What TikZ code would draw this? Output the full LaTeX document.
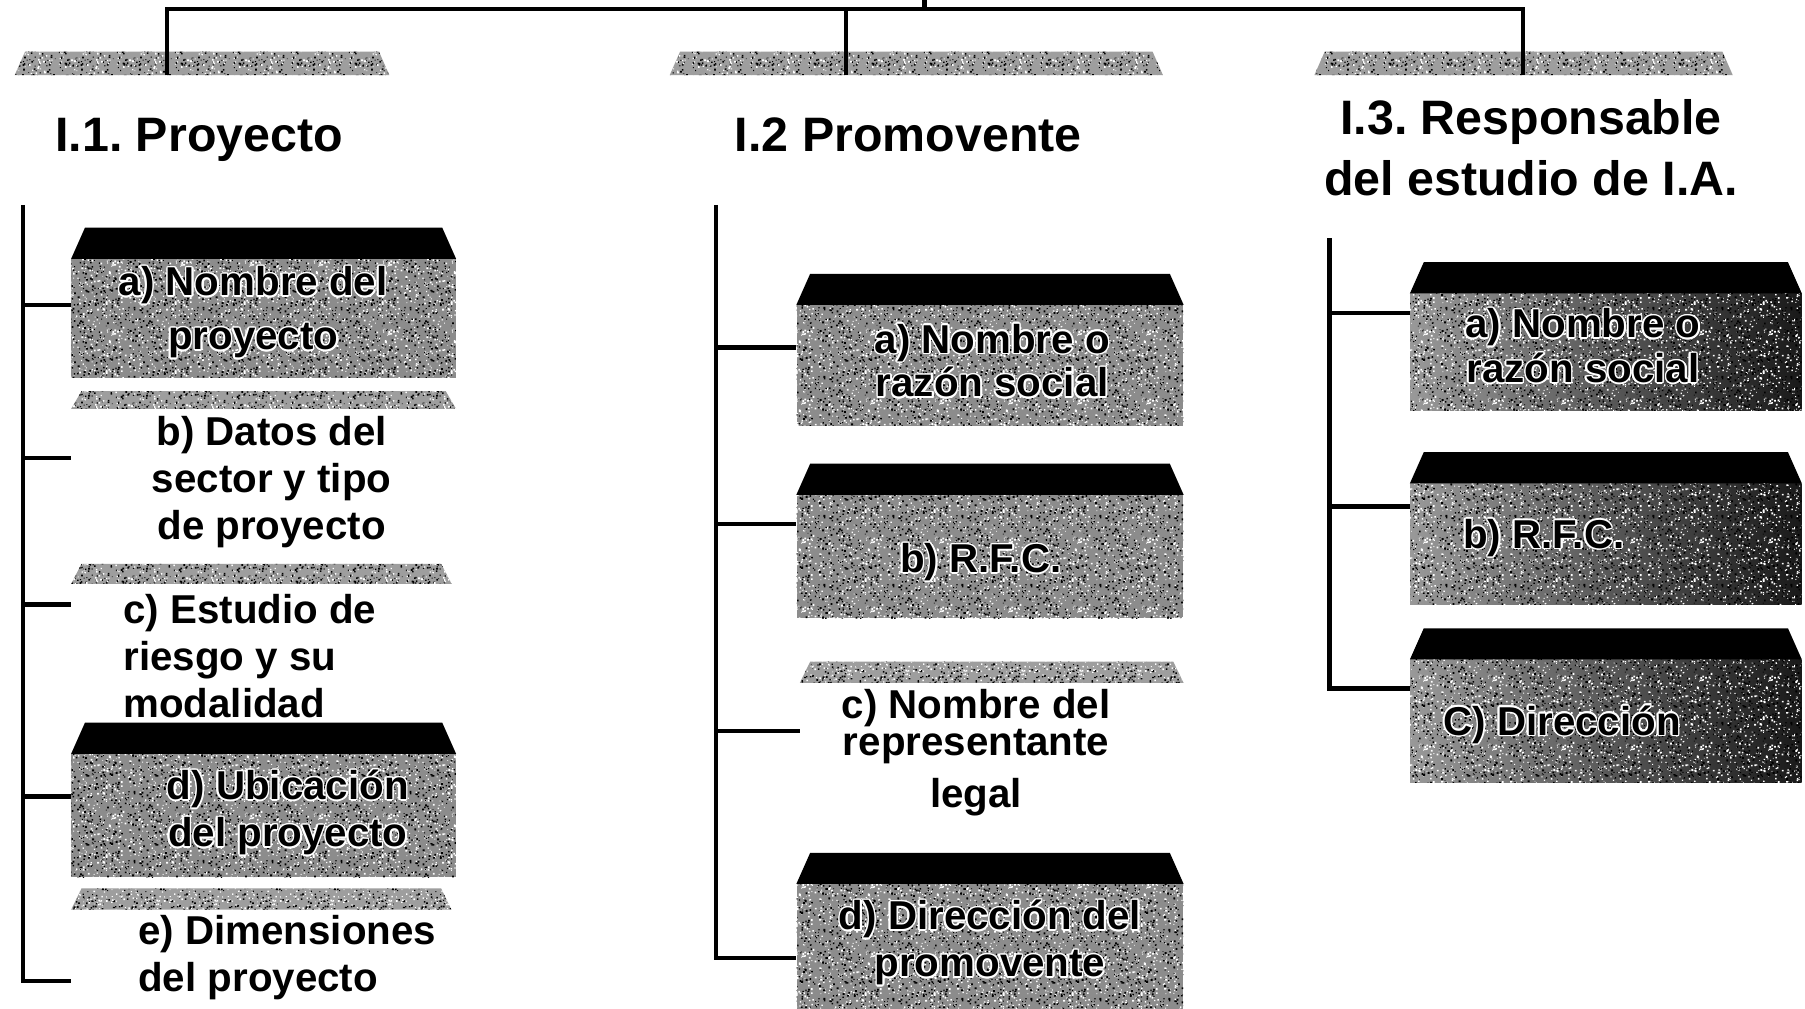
\documentclass[tikz,border=0pt]{standalone}
\usepackage{fontspec}
\setmainfont{Liberation Sans}
\usepackage[copies]{contour}
\contourlength{1.3pt}
\usetikzlibrary{calc,patterns}
\definecolor{barcol}{gray}{0.62}
\definecolor{facecol}{gray}{0.55}
\pgfdeclarepatterninherentlycolored{speckF}{\pgfpoint{0pt}{0pt}}{\pgfpoint{60pt}{60pt}}{\pgfpoint{60pt}{60pt}}{%
  \pgfmathsetseed{11}%
  \pgfsetfillcolor{white}%
  \foreach \k in {1,...,230}{%
    \pgfmathsetmacro\px{59*rnd}\pgfmathsetmacro\py{59*rnd}\pgfmathsetmacro\ps{0.6+1.1*rnd}%
    \pgfpathrectangle{\pgfpoint{\px pt}{\py pt}}{\pgfpoint{\ps pt}{\ps pt}}\pgfusepath{fill}%
  }%
  \pgfsetfillcolor{black}%
  \foreach \k in {1,...,200}{%
    \pgfmathsetmacro\px{59*rnd}\pgfmathsetmacro\py{59*rnd}\pgfmathsetmacro\ps{0.6+1.1*rnd}%
    \pgfpathrectangle{\pgfpoint{\px pt}{\py pt}}{\pgfpoint{\ps pt}{\ps pt}}\pgfusepath{fill}%
  }%
}
\pgfdeclarepatterninherentlycolored{speckB}{\pgfpoint{0pt}{0pt}}{\pgfpoint{50pt}{50pt}}{\pgfpoint{50pt}{50pt}}{%
  \pgfmathsetseed{5}%
  \pgfsetfillcolor{black}%
  \foreach \k in {1,...,170}{%
    \pgfmathsetmacro\px{49*rnd}\pgfmathsetmacro\py{49*rnd}\pgfmathsetmacro\ps{0.6+1.0*rnd}%
    \pgfpathrectangle{\pgfpoint{\px pt}{\py pt}}{\pgfpoint{\ps pt}{\ps pt}}\pgfusepath{fill}%
  }%
  \pgfsetfillcolor{white}%
  \foreach \k in {1,...,120}{%
    \pgfmathsetmacro\px{49*rnd}\pgfmathsetmacro\py{49*rnd}\pgfmathsetmacro\ps{0.6+1.0*rnd}%
    \pgfpathrectangle{\pgfpoint{\px pt}{\py pt}}{\pgfpoint{\ps pt}{\ps pt}}\pgfusepath{fill}%
  }%
}
\newcommand\wc[1]{\contour{white}{#1}}
\newcommand\topband[1]{\fill[black] (#1.north west) -- ++(12,-27) -- ($(#1.north east)+(-12,-27)$) -- (#1.north east) -- cycle;}
\newcommand\trapbar[1]{\fill[barcol, postaction={pattern=speckB}] (#1.south west) -- ($(#1.north west)+(9,0)$) -- ($(#1.north east)+(-9,0)$) -- (#1.south east) -- cycle;}
\begin{document}
\frenchspacing
\begin{tikzpicture}[x=1pt,y=-1pt,
  conn/.style={draw=black, line width=3.8pt},
  facebox/.style={fill=facecol, inner sep=0pt, postaction={pattern=speckF}},
  darkface/.style={inner sep=0pt, left color=black!40, right color=black!90, postaction={pattern=speckF}},
  barnode/.style={inner sep=0pt},
  itemtxt/.style={font=\fontsize{35}{#1}\selectfont\bfseries, align=center, inner sep=0pt},
  itemtxt/.default=41,
  headtxt/.style={font=\fontsize{42}{53}\selectfont\bfseries, align=center, inner sep=0pt}]
\fill[white] (0,0) rectangle (1568,876);
\useasboundingbox (0,0) rectangle (1568,876);

% ---- header bars
\node[barnode, minimum width=325pt, minimum height=20pt] (h1bar) at (175.5,55) {};
\node[barnode, minimum width=428pt, minimum height=20pt] (h2bar) at (796,55) {};
\node[barnode, minimum width=363pt, minimum height=20pt] (h3bar) at (1323.5,55) {};
\trapbar{h1bar}\trapbar{h2bar}\trapbar{h3bar}

% ---- headers
\node[headtxt, anchor=base] (h1) at (173,132) {I.1. Proyecto};
\node[headtxt, anchor=base] (h2) at (789,132) {I.2 Promovente};
\node[headtxt] (h3) at (1330,128) {I.3. Responsable\\del estudio de I.A.};

% ---- top connectors
\coordinate (j1) at (145,8);
\coordinate (j2) at (735,8);
\coordinate (j3) at (1323,8);
\coordinate (root) at (803,0);
\coordinate (rootj) at (803,8);
\draw[conn] (j1 |- h1bar.south) -- (j1) -- (j3) -- (j3 |- h3bar.south);
\draw[conn] (j2) -- (j2 |- h2bar.south);
\draw[conn] (root) -- (rootj);

% ================= column 1
\node[facebox, minimum width=334pt, minimum height=103pt] (a1) at (229,276.5) {};
\topband{a1}
\node[itemtxt=47] (a1t) at (220,272) {\wc{a) Nombre del}\\\wc{proyecto}};

\node[barnode, minimum width=334pt, minimum height=15pt] (b1bar) at (229,347.5) {};
\trapbar{b1bar}
\node[itemtxt] (b1) at (236,419) {b) Datos del\\sector y tipo\\de proyecto};

\node[barnode, minimum width=330pt, minimum height=17pt] (c1bar) at (227,498.5) {};
\trapbar{c1bar}
\node[itemtxt, align=left, anchor=west] (c1) at (107,570) {c) Estudio de\\riesgo y su\\modalidad};

\node[facebox, minimum width=334pt, minimum height=107pt] (d1) at (229,708.5) {};
\topband{d1}
\node[itemtxt] (d1t) at (250,706.5) {\wc{d) Ubicación}\\\wc{del proyecto}};

\node[barnode, minimum width=330pt, minimum height=18pt] (e1bar) at (227,781) {};
\trapbar{e1bar}
\node[itemtxt, align=left, anchor=west] (e1) at (120,832) {e) Dimensiones\\del proyecto};

\coordinate (t1top) at (20,178);
\coordinate (a1in) at ([yshift=11.5pt]a1.west);
\coordinate (b1in) at (62,398);
\coordinate (c1in) at (62,525);
\coordinate (d1in) at ([yshift=16.5pt]d1.west);
\coordinate (e1in) at (62,852);
\draw[conn] (t1top) |- (e1in);
\draw[conn] (t1top |- a1in) -- (a1in);
\draw[conn] (t1top |- b1in) -- (b1in);
\draw[conn] (t1top |- c1in) -- (c1in);
\draw[conn] (t1top |- d1in) -- (d1in);

% ================= column 2
\node[facebox, minimum width=336pt, minimum height=105pt] (a2) at (860,317.5) {};
\topband{a2}
\node[itemtxt=38] (a2t) at (862,314) {\wc{a) Nombre o}\\\wc{razón social}};

\node[facebox, minimum width=336pt, minimum height=107pt] (b2) at (860,483.5) {};
\topband{b2}
\node[itemtxt] (b2t) at (852,489) {\wc{b) R.F.C.}};

\node[barnode, minimum width=333pt, minimum height=18pt] (c2bar) at (861.5,584) {};
\trapbar{c2bar}
\node[itemtxt] (c2) at (848,654) {c) Nombre del\\[-9pt]representante\\[4pt]legal};

\node[facebox, minimum width=336pt, minimum height=112pt] (d2) at (860,824) {};
\topband{d2}
\node[itemtxt] (d2t) at (860,819.5) {\wc{d) Dirección del}\\\wc{promovente}};

\coordinate (t2top) at (622,178);
\coordinate (a2in) at ([yshift=15.5pt]a2.west);
\coordinate (b2in) at ([yshift=28.5pt]b2.west);
\coordinate (c2in) at (695,635);
\coordinate (d2in) at ([yshift=-8pt]d2.west);
\draw[conn] (t2top) |- (d2in);
\draw[conn] (t2top |- a2in) -- (a2in);
\draw[conn] (t2top |- b2in) -- (b2in);
\draw[conn] (t2top |- c2in) -- (c2in);

% ================= column 3
\node[darkface, minimum width=340pt, minimum height=102pt] (a3) at (1395,306) {};
\topband{a3}
\node[itemtxt=39] (a3t) at (1375,301) {\wc{a) Nombre o}\\\wc{razón social}};

\node[darkface, minimum width=340pt, minimum height=105pt] (b3) at (1395,472.5) {};
\topband{b3}
\node[itemtxt] (b3t) at (1341,468) {\wc{b) R.F.C.}};

\node[darkface, minimum width=340pt, minimum height=107pt] (c3) at (1395,626.5) {};
\topband{c3}
\node[itemtxt] (c3t) at (1357,630) {\wc{C) Dirección}};

\coordinate (t3top) at (1155,207);
\coordinate (a3in) at ([yshift=34pt]a3.west);
\coordinate (b3in) at ([yshift=32.5pt]b3.west);
\coordinate (c3in) at ([yshift=28.5pt]c3.west);
\draw[conn] (t3top) |- (c3in);
\draw[conn] (t3top |- a3in) -- (a3in);
\draw[conn] (t3top |- b3in) -- (b3in);
\end{tikzpicture}
\end{document}
